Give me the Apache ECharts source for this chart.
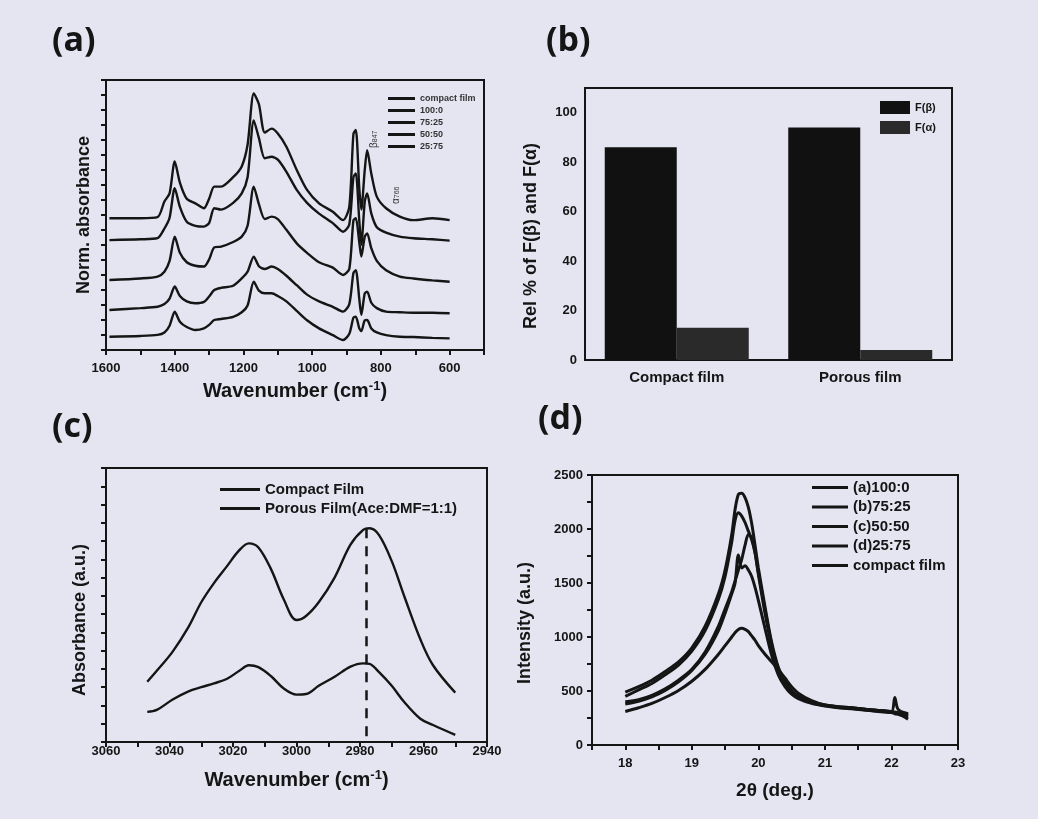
<!DOCTYPE html>
<html><head><meta charset="utf-8">
<script src="https://cdn.jsdelivr.net/npm/echarts@6/dist/echarts.min.js"></script>
<style>html,body{margin:0;padding:0;background:#e4e5f1}#c{width:1038px;height:819px}</style>
</head><body><div id="c"></div><script>
// ---------- Panel (a): FTIR spectra ----------
const wnA = [1590,1500,1450,1430,1415,1400,1385,1365,1340,1315,1300,1285,1265,1230,1205,1188,1170,1155,1138,1118,1100,1075,1045,1015,980,940,910,892,880,873,863,857,847,840,828,812,785,745,705,650,600];
const aCompact = [48.8,48.8,49.2,55,58,69.8,62,56,54.3,52.5,56,60.5,60.5,64,68,76,95,91,80.5,82,80.2,75.3,66.7,59.3,54.3,51.2,48.1,53,80,81.5,60,52,66.7,74,65.4,56.8,52.5,49.4,48.1,48.8,48.1];
const a100 = [40.7,41,41.4,45,49,59.9,53,47.5,46,45.7,47,52.5,52,54.5,58,64,85,78.5,71,71.6,70.5,66,59.3,54.5,50.5,47,43.8,46.5,64,65.4,48,39,55,58,50.6,45.5,43.5,42,41.4,41,40.5];
const a75 = [25.9,26.5,27.2,29,33,42,36,32.5,31.2,30.9,33.5,38,38.3,40,42,46,60.5,54,48.5,49.4,48.5,44.5,39.5,36,32.5,30.5,27.8,30,48,48.8,40,34.6,42,43.2,37.7,33,29.5,27.2,26.5,25.8,25.3];
const a50 = [14.8,15.5,16,17,19,23.5,20,18,17.3,17.8,19.8,22.2,23,23.8,26.5,29,34.6,31,30,30.9,30,27.5,24,20.5,18,16,14.2,17,28.5,29.6,19,13,21,21.6,17.5,15.5,14.2,14,13.8,13.8,13.6];
const a25 = [4.9,5.2,5.6,6.5,9,14.2,10.5,8.5,7.4,8,9.3,11.1,11.5,12.3,14,16.5,25.3,22,21,21,20,18,14.5,11,8,5.5,3.7,6,12,12.3,8,7,11,11.1,8,6.5,5.5,4.9,4.8,4.5,4.3];
const namesA = ['compact film','100:0','75:25','50:50','25:75'];

// ---------- Panel (b): relative phase fractions ----------
const catsB = ['Compact film','Porous film'];
const fBeta = [86, 94];
const fAlpha = [13, 4];

// ---------- Panel (c): C-H stretching region ----------
const wnC = [3047,3044,3039,3034,3030,3026,3022,3018,3015,3012,3008,3004,3000,2997,2993,2988,2983,2979,2977,2974,2970,2966,2961,2957,2950];
const cCompact = [22,26,33,42,51,58,64,70,72.5,71,63,52,44.5,46,51,60,72,77.4,78,75.5,66,53,37.5,28,18];
const cPorous = [11,11.7,15.5,18.5,20,21.4,23,26,28,27.3,24,19.5,17.3,17.5,20.5,23.8,27.5,28.7,28.5,25.5,20.5,14.5,8.5,6.2,2.6];
const dashC = 2978;

// ---------- Panel (d): XRD ----------
const ttD = [18,18.2,18.4,18.6,18.8,19.0,19.2,19.4,19.5,19.6,19.65,19.7,19.75,19.8,19.85,19.9,19.95,20.0,20.1,20.2,20.3,20.4,20.5,20.6,20.8,21.0,21.2,21.4,21.6,21.8,22.0,22.05,22.1,22.25];
const d100 = [490,540,600,680,770,900,1100,1400,1620,1950,2180,2320,2330,2290,2200,2050,1850,1640,1280,950,720,590,500,450,400,370,355,345,330,320,305,300,295,270];
const d75 = [450,510,570,650,740,870,1060,1350,1560,1880,2080,2150,2120,2060,1980,1900,1780,1600,1250,930,700,580,495,445,395,365,350,340,325,315,300,290,285,260];
const d50 = [400,420,460,520,600,700,860,1100,1260,1420,1520,1620,1720,1850,1950,1920,1780,1580,1220,920,700,575,490,440,390,365,350,340,330,320,310,440,330,290];
const d25 = [380,405,445,505,585,690,840,1060,1220,1400,1500,1760,1640,1660,1620,1560,1460,1340,1080,830,650,540,470,430,385,360,345,335,325,310,300,300,290,240];
const dCompact = [310,345,385,440,505,590,700,840,920,1000,1040,1070,1080,1070,1050,1010,970,920,840,770,700,620,540,480,410,370,355,345,330,320,310,305,300,280];
const namesD = ['(a)100:0','(b)75:25','(c)50:50','(d)25:75','compact film'];

// ---------- build ----------
const ink = '#151515';
const FONT = '"Liberation Sans", Arial, sans-serif';
const zip = (xs, ys) => xs.map((x, i) => [x, ys[i]]);
const lbl = (size, extra) => Object.assign({color: ink, fontFamily: FONT, fontWeight: 'bold', fontSize: size}, extra || {});
const axLine = {lineStyle: {color: ink, width: 2}};
const tick = {length: 5, lineStyle: {color: ink, width: 2}};
const gridBox = {show: true, borderColor: ink, borderWidth: 2, backgroundColor: 'transparent'};
const wnName = 'Wavenumber (cm{s|-1})';
const supRich = {s: {fontSize: 13, fontWeight: 'bold', fontFamily: FONT, color: ink, verticalAlign: 'top', padding: [0, 0, 9, 0]}};

const lineSeries = (name, xi, yi, xs, ys, w, sm) => ({
  name, type: 'line', xAxisIndex: xi, yAxisIndex: yi, data: zip(xs, ys),
  showSymbol: false, smooth: sm, lineStyle: {color: ink, width: w}, itemStyle: {color: ink}, silent: true
});

const seriesA = [aCompact, a100, a75, a50, a25].map((ys, i) => lineSeries(namesA[i], 0, 0, wnA, ys, 2.4, 0.25));
const seriesD = [d100, d75, d50, d25, dCompact].map((ys, i) => lineSeries(namesD[i], 3, 3, ttD, ys, 3, 0.3));
const seriesC = [
  Object.assign(lineSeries('Compact Film', 2, 2, wnC, cCompact, 2.4, 0.35), {
    markLine: {symbol: 'none', silent: true, label: {show: false},
      lineStyle: {type: [10, 8], color: ink, width: 2.5},
      data: [[{coord: [dashC, 78]}, {coord: [dashC, 0]}]]}
  }),
  lineSeries('Porous Film(Ace:DMF=1:1)', 2, 2, wnC, cPorous, 2.4, 0.35)
];
const seriesB = [
  {name: 'F(β)', type: 'bar', xAxisIndex: 1, yAxisIndex: 1, data: fBeta, barWidth: 72, barGap: '0%', itemStyle: {color: '#111111'}},
  {name: 'F(α)', type: 'bar', xAxisIndex: 1, yAxisIndex: 1, data: fAlpha, barWidth: 72, barGap: '0%', itemStyle: {color: '#2a2a2a'}}
];

const option = {
  backgroundColor: '#e4e5f1',
  animation: false,
  grid: [
    Object.assign({left: 106, top: 80, width: 378, height: 270}, gridBox),
    Object.assign({left: 585, top: 88, width: 367, height: 272}, gridBox),
    Object.assign({left: 106, top: 468, width: 381, height: 274}, gridBox),
    Object.assign({left: 592, top: 475, width: 366, height: 270}, gridBox)
  ],
  xAxis: [
    {type: 'value', gridIndex: 0, min: 500, max: 1600, interval: 100, inverse: true,
     axisLine: axLine, axisTick: tick, splitLine: {show: false},
     axisLabel: lbl(13, {margin: 12, formatter: v => (v % 200 === 0 && v >= 600) ? String(v) : ''}),
     name: wnName, nameLocation: 'middle', nameGap: 30, nameTextStyle: lbl(20, {rich: supRich})},
    {type: 'category', gridIndex: 1, data: catsB,
     axisLine: axLine, axisTick: tick, splitLine: {show: false},
     axisLabel: lbl(15, {margin: 10})},
    {type: 'value', gridIndex: 2, min: 2940, max: 3060, interval: 10, inverse: true,
     axisLine: axLine, axisTick: tick, splitLine: {show: false},
     axisLabel: lbl(13, {margin: 3, formatter: v => (v % 20 === 0) ? String(v) : ''}),
     name: wnName, nameLocation: 'middle', nameGap: 27, nameTextStyle: lbl(20, {rich: supRich})},
    {type: 'value', gridIndex: 3, min: 17.5, max: 23, interval: 0.5,
     axisLine: axLine, axisTick: tick, splitLine: {show: false},
     axisLabel: lbl(13, {margin: 12, formatter: v => Number.isInteger(v) ? String(v) : ''}),
     name: '2θ (deg.)', nameLocation: 'middle', nameGap: 36, nameTextStyle: lbl(19)}
  ],
  yAxis: [
    {type: 'value', gridIndex: 0, min: 0, max: 100, interval: 100 / 18,
     axisLine: axLine, axisTick: tick, splitLine: {show: false}, axisLabel: {show: false},
     name: 'Norm. absorbance', nameLocation: 'middle', nameGap: 13, nameTextStyle: lbl(18)},
    {type: 'value', gridIndex: 1, min: 0, max: 110, interval: 10,
     axisLine: axLine, axisTick: tick, splitLine: {show: false},
     axisLabel: lbl(13, {margin: 8, formatter: v => (v % 20 === 0 && v <= 100) ? String(v) : ''}),
     name: 'Rel % of F(β) and F(α)', nameLocation: 'middle', nameGap: 45, nameTextStyle: lbl(18, {padding: [0, 24, 0, 0]})},
    {type: 'value', gridIndex: 2, min: 0, max: 100, interval: 100 / 15,
     axisLine: axLine, axisTick: tick, splitLine: {show: false}, axisLabel: {show: false},
     name: 'Absorbance (a.u.)', nameLocation: 'middle', nameGap: 17, nameTextStyle: lbl(18, {padding: [0, 30, 0, 0]})},
    {type: 'value', gridIndex: 3, min: 0, max: 2500, interval: 250,
     axisLine: axLine, axisTick: tick, splitLine: {show: false},
     axisLabel: lbl(13, {margin: 9, formatter: v => (v % 500 === 0) ? String(v) : ''}),
     name: 'Intensity (a.u.)', nameLocation: 'middle', nameGap: 58, nameTextStyle: lbl(18, {padding: [0, 26, 0, 0]})}
  ],
  legend: [
    {data: namesA, orient: 'vertical', left: 383, top: 89, icon: 'rect', itemWidth: 27, itemHeight: 3, itemGap: 3,
     selectedMode: false, textStyle: lbl(9, {color: '#333'})},
    {data: ['F(β)', 'F(α)'], orient: 'vertical', left: 875, top: 96, icon: 'rect', itemWidth: 30, itemHeight: 13, itemGap: 7,
     selectedMode: false, textStyle: lbl(11)},
    {data: ['Compact Film', 'Porous Film(Ace:DMF=1:1)'], orient: 'vertical', left: 215, top: 477, icon: 'rect', itemWidth: 40, itemHeight: 3, itemGap: 4,
     selectedMode: false, textStyle: lbl(15)},
    {data: namesD, orient: 'vertical', left: 807, top: 475, icon: 'rect', itemWidth: 36, itemHeight: 3, itemGap: 4.5,
     selectedMode: false, textStyle: lbl(15)}
  ],
  graphic: [
    {type: 'text', left: 52, top: 24, style: {text: '(a)', font: 'bold 34px "Open Sans", sans-serif', fill: ink}},
    {type: 'text', left: 546, top: 24, style: {text: '(b)', font: 'bold 34px "Open Sans", sans-serif', fill: ink}},
    {type: 'text', left: 52, top: 410, style: {text: '(c)', font: 'bold 34px "Open Sans", sans-serif', fill: ink}},
    {type: 'text', left: 538, top: 402, style: {text: '(d)', font: 'bold 34px "Open Sans", sans-serif', fill: ink}},
    {type: 'text', x: 369, y: 148, rotation: Math.PI / 2,
     style: {text: '{a|β}{b|847}', rich: {a: {fontSize: 10, fontFamily: FONT, fill: '#333'}, b: {fontSize: 7, fontFamily: FONT, fill: '#333', verticalAlign: 'bottom'}}}},
    {type: 'text', x: 391, y: 204, rotation: Math.PI / 2,
     style: {text: '{a|α}{b|766}', rich: {a: {fontSize: 10, fontFamily: FONT, fill: '#333'}, b: {fontSize: 7, fontFamily: FONT, fill: '#333', verticalAlign: 'bottom'}}}}
  ],
  series: [].concat(seriesA, seriesB, seriesC, seriesD)
};

const chart = echarts.init(document.getElementById('c'), null, {renderer: 'canvas'});
chart.setOption(option);
</script></body></html>
